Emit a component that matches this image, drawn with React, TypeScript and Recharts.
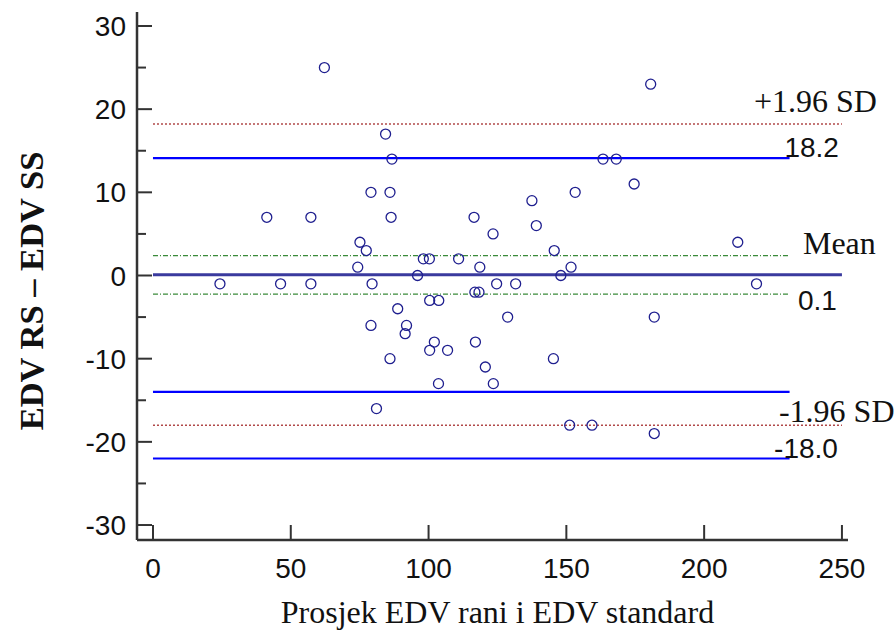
import React from 'react';
import { ScatterChart, Scatter, XAxis, YAxis, ReferenceLine } from 'recharts';

// Average of the two methods (x) and their difference (y)
const avgEDV = [
  62.2, 180.6, 84.4, 86.7, 163.3, 168.1, 174.6, 79.1, 86.0, 153.2,
  137.5, 41.3, 57.3, 86.4, 116.5, 139.1, 123.4, 75.1, 212.2, 77.4,
  145.6, 98.1, 100.3, 110.9, 74.3, 118.6, 151.7, 96.0, 148.0, 24.3,
  46.3, 57.3, 79.5, 124.7, 131.6, 219.0, 116.8, 118.3, 100.4, 103.7,
  88.8, 128.7, 181.9, 79.1, 92.0, 91.5, 102.1, 117.0, 100.4, 106.9,
  86.0, 145.3, 120.6, 103.6, 123.5, 81.1, 151.2, 159.3, 181.9,
];
const diffEDV = [
  25, 23, 17, 14, 14, 14, 11, 10, 10, 10,
  9, 7, 7, 7, 7, 6, 5, 4, 4, 3,
  3, 2, 2, 2, 1, 1, 1, 0, 0, -1,
  -1, -1, -1, -1, -1, -1, -2, -2, -3, -3,
  -4, -5, -5, -6, -6, -7, -8, -8, -9, -9,
  -10, -10, -11, -13, -13, -16, -18, -18, -19,
];

const xTicks = [0, 50, 100, 150, 200, 250];
const yTicks = [-30, -25, -20, -15, -10, -5, 0, 5, 10, 15, 20, 25, 30];

const meanDiff = 0.1;
const upperLoA = 18.2;
const lowerLoA = -18.0;
const meanCI = [2.4, -2.25];
const loaCI = [14.1, -14.0, -22.0];
const shortLineEnd = 231;
const longLineEnd = 250;

const upperNames = ['+1.96 SD', '18.2'];
const meanNames = ['Mean', '0.1'];
const lowerNames = ['-1.96 SD', '-18.0'];

const data = avgEDV.map((x, i) => ({ x, y: diffEDV[i] }));

const SERIF = '"Liberation Serif", "Times New Roman", serif';
const SANS = '"Liberation Sans", Arial, sans-serif';
const AXIS = '#333333';
const TXT = '#111111';

const YTick = (props: any) => {
  const { x, y, payload } = props;
  const v = payload.value;
  const major = v % 10 === 0;
  return (
    <g>
      <line x1={x} y1={y} x2={x + (major ? 15 : 9)} y2={y} stroke={AXIS} strokeWidth={2} />
      {major && (
        <text x={x - 11} y={y} dy={10} textAnchor="end" fontFamily={SANS} fontSize={28} fill={TXT}>
          {v}
        </text>
      )}
    </g>
  );
};

const XTick = (props: any) => {
  const { x, y, payload } = props;
  return (
    <g>
      <line x1={x} y1={y} x2={x} y2={y - 15} stroke={AXIS} strokeWidth={2} />
      <text x={x} y={y} dy={38} textAnchor="middle" fontFamily={SANS} fontSize={28} fill={TXT}>
        {payload.value}
      </text>
    </g>
  );
};

const Dot = (props: any) => (
  <circle cx={props.cx} cy={props.cy} r={5} fill="none" stroke="#1f1f8f" strokeWidth={1.3} />
);

const pairLabel =
  (names: string[], nameDx: number, nameDy: number, nameAnchor: any, numDx: number, numDy: number) =>
  (p: any) => {
    const vb = p.viewBox || {};
    const ex = vb.x + vb.width;
    const ly = vb.y;
    return (
      <g>
        <text x={ex + nameDx} y={ly + nameDy} textAnchor={nameAnchor} fontFamily={SERIF} fontSize={32} fill={TXT}>
          {names[0]}
        </text>
        <text x={ex + numDx} y={ly + numDy} textAnchor="end" fontFamily={SANS} fontSize={28} fill={TXT}>
          {names[1]}
        </text>
      </g>
    );
  };

export default function App() {
  return (
    <div style={{ position: 'absolute', left: 0, top: 0, width: 896, height: 632, background: '#fff' }}>
      <ScatterChart width={896} height={632} margin={{ top: 12, right: 48, bottom: 0, left: 0 }}>
        <XAxis
          type="number"
          dataKey="x"
          domain={[-5.8, 252.2]}
          ticks={xTicks}
          allowDataOverflow
          height={92}
          tickLine={false}
          tickSize={0}
          tickMargin={0}
          tick={<XTick />}
          axisLine={{ stroke: AXIS, strokeWidth: 2.5 }}
          label={{
            content: () => (
              <text x={497.5} y={623} textAnchor="middle" fontFamily={SERIF} fontSize={32} fill={TXT}>
                Prosjek EDV rani i EDV standard
              </text>
            ),
          }}
        />
        <YAxis
          type="number"
          dataKey="y"
          domain={[-31.8, 31.68]}
          ticks={yTicks}
          allowDataOverflow
          width={137}
          tickLine={false}
          tickSize={0}
          tickMargin={0}
          tick={<YTick />}
          axisLine={{ stroke: AXIS, strokeWidth: 2.5 }}
          label={{
            content: () => (
              <text
                x={31}
                y={291}
                transform="rotate(-90, 31, 291)"
                textAnchor="middle"
                dominantBaseline="central"
                fontFamily={SERIF}
                fontWeight="bold"
                fontSize={34.5}
                fill={TXT}
              >
                EDV RS – EDV SS
              </text>
            ),
          }}
        />
        {loaCI.map((v, i) => (
          <ReferenceLine
            key={'ci' + i}
            segment={[{ x: 0, y: v }, { x: shortLineEnd, y: v }]}
            stroke="#0000ff"
            strokeWidth={2.2}
          />
        ))}
        {meanCI.map((v, i) => (
          <ReferenceLine
            key={'mci' + i}
            segment={[{ x: 0, y: v }, { x: shortLineEnd, y: v }]}
            stroke="#3a8a3a"
            strokeWidth={1.2}
            strokeDasharray="5 2 1 2"
          />
        ))}
        <ReferenceLine
          segment={[{ x: 0, y: upperLoA }, { x: longLineEnd, y: upperLoA }]}
          stroke="#b04848"
          strokeWidth={1.5}
          strokeDasharray="2 2"
          label={{ content: pairLabel(upperNames, 35, -12, 'end', -3, 32.5) }}
        />
        <ReferenceLine
          segment={[{ x: 0, y: lowerLoA }, { x: longLineEnd, y: lowerLoA }]}
          stroke="#b04848"
          strokeWidth={1.5}
          strokeDasharray="2 2"
          label={{ content: pairLabel(lowerNames, -63, -3, 'start', -4, 32.5) }}
        />
        <ReferenceLine
          segment={[{ x: 0, y: meanDiff }, { x: longLineEnd, y: meanDiff }]}
          stroke="#3a3a9e"
          strokeWidth={3}
          label={{ content: pairLabel(meanNames, -39, -21, 'start', -5, 35.5) }}
        />
        <Scatter data={data} shape={<Dot />} isAnimationActive={false} />
      </ScatterChart>
    </div>
  );
}
